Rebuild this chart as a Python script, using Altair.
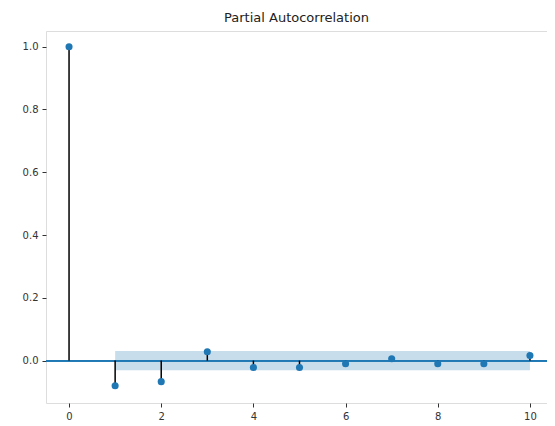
import altair as alt
import pandas as pd

lags = [0, 1, 2, 3, 4, 5, 6, 7, 8, 9, 10]
pacf = [1.0, -0.080, -0.067, 0.028, -0.022, -0.022, -0.010, 0.006, -0.010, -0.010, 0.016]
band_lags = [1, 2, 3, 4, 5, 6, 7, 8, 9, 10]
band_hi = [0.031] * 10
band_lo = [-0.031] * 10

df = pd.DataFrame({"lag": lags, "pacf": pacf, "zero": [0.0] * len(lags)})
band = pd.DataFrame({"lag": band_lags, "hi": band_hi, "lo": band_lo})

xs = alt.Scale(domain=[-0.5, 10.37], nice=False, zero=False)
ys = alt.Scale(domain=[-0.135, 1.05], nice=False, zero=False)

xax = alt.Axis(values=[0, 2, 4, 6, 8, 10], format="d", title=None, grid=False,
               tickSize=4, labelFontSize=10, labelColor="#333", tickColor="#333",
               domain=False, labelFont="DejaVu Sans", labelPadding=4)
yax = alt.Axis(values=[0.0, 0.2, 0.4, 0.6, 0.8, 1.0], format=".1f", title=None, grid=False,
               tickSize=4, labelFontSize=10, labelColor="#333", tickColor="#333",
               domain=False, labelFont="DejaVu Sans", labelPadding=4)

band_layer = alt.Chart(band).mark_area(color="#1f77b4", opacity=0.25).encode(
    x=alt.X("lag:Q", scale=xs, axis=xax),
    y=alt.Y("hi:Q", scale=ys, axis=yax),
    y2="lo:Q",
)

zero_line = alt.Chart(df).mark_rule(color="#1f77b4", strokeWidth=1.3).encode(
    y=alt.Y("zero:Q", scale=ys),
    x=alt.value(0), x2=alt.value(501),
)

stems = alt.Chart(df).mark_rule(color="black", strokeWidth=1.5).encode(
    x=alt.X("lag:Q", scale=xs),
    y=alt.Y("zero:Q", scale=ys),
    y2="pacf:Q",
)

points = alt.Chart(df).mark_circle(color="#1f77b4", opacity=1, size=50).encode(
    x=alt.X("lag:Q", scale=xs),
    y=alt.Y("pacf:Q", scale=ys),
)

chart = alt.layer(band_layer, zero_line, stems, points).properties(
    width=501, height=372,
    title=alt.TitleParams("Partial Autocorrelation", fontSize=13, font="DejaVu Sans",
                          fontWeight="normal", color="#222", offset=6),
    autosize=alt.AutoSizeParams(type="none"),
    padding={"left": 38, "top": 23, "right": 0, "bottom": 23},
).configure_view(stroke="#555", strokeWidth=1.3).configure(background="white")

chart.save("out.html", embed_options={"renderer": "svg", "actions": False})
